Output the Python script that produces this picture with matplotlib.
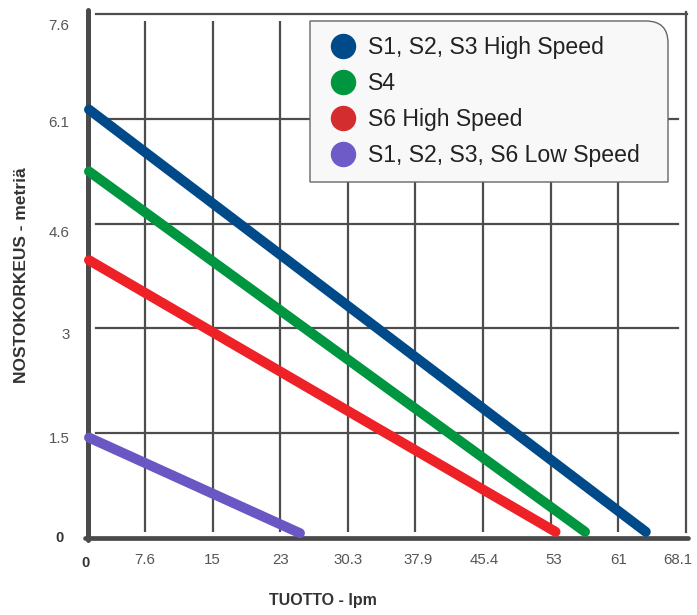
import matplotlib
matplotlib.use('Agg')
import matplotlib.pyplot as plt
from matplotlib.lines import Line2D
from matplotlib.path import Path
from matplotlib.patches import PathPatch
from matplotlib.transforms import ScaledTranslation, Affine2D

plt.rcParams['font.family'] = ['Liberation Sans', 'DejaVu Sans']

# ---- data ----
x_tick_pos = [0, 7.57, 15.13, 22.7, 30.27, 37.83, 45.4, 52.97, 60.53, 68.1]
x_tick_labels = ['0', '7.6', '15', '23', '30.3', '37.9', '45.4', '53', '61', '68.1']
y_tick_pos = [0, 1.524, 3.048, 4.572, 6.096, 7.62]
y_tick_labels = ['0', '1.5', '3', '4.6', '6.1', '7.6']

series_names = ['S1, S2, S3 High Speed', 'S4', 'S6 High Speed', 'S1, S2, S3, S6 Low Speed']
blue_x = [1.3, 63.6]
blue_y = [6.23, 0.09]
green_x = [1.3, 56.8]
green_y = [5.33, 0.09]
red_x = [1.3, 53.5]
red_y = [4.04, 0.09]
purple_x = [1.3, 24.9]
purple_y = [1.46, 0.07]
series_x = [blue_x, green_x, red_x, purple_x]
series_y = [blue_y, green_y, red_y, purple_y]
line_colors = ['#004a8a', '#00963f', '#ee2126', '#6b57c3']
legend_colors = ['#004a8a', '#00963f', '#d32d2f', '#6e5bc8']

W, H = 697, 615
fig = plt.figure(figsize=(W / 100, H / 100), dpi=100)
L, R, B, T = 87.5, 686, 538, 14
ax = fig.add_axes([L / W, 1 - B / H, (R - L) / W, (B - T) / H])
ax.set_xlim(1.13, 68.1)
ax.set_ylim(0, 7.62)
for s in ax.spines.values():
    s.set_visible(False)

grid_c = '#4d4d4d'
# vertical grid lines
for xv in x_tick_pos[1:-1]:
    ax.plot([xv, xv], [0.087, 7.52], color=grid_c, lw=1.6, zorder=1, solid_capstyle='butt')
ax.plot([x_tick_pos[-1]] * 2, [0.087, 7.65], color=grid_c, lw=1.6, zorder=1, clip_on=False)
# horizontal grid lines
for yv in y_tick_pos[1:-1]:
    ax.plot([2.08, 67.25], [yv, yv], color=grid_c, lw=1.6, zorder=1)
ax.plot([2.08, 68.25], [y_tick_pos[-1]] * 2, color=grid_c, lw=1.6, zorder=1, clip_on=False)

# axis lines
ax.plot([1.13, 1.13], [-0.03, 7.68], color='#4a4a4a', lw=3.6, zorder=2,
        solid_capstyle='round', clip_on=False)
ax.plot([0.9, 68.35], [0, 0], color='#4a4a4a', lw=3.4, zorder=2,
        solid_capstyle='round', clip_on=False)

# data lines
for xs, ys, c in zip(series_x, series_y, line_colors):
    ax.plot(xs, ys, color=c, lw=7.2, solid_capstyle='round', zorder=3, clip_on=False)

# ticks
ax.set_xticks(x_tick_pos[1:], x_tick_labels[1:])
ax.set_yticks(y_tick_pos[1:], y_tick_labels[1:])
ax.tick_params(axis='both', length=0, labelsize=10.8, labelcolor='#555555')
ax.tick_params(axis='x', pad=11)
ax.tick_params(axis='y', pad=13)
y_offsets = [4, 5, 8, 3, 11]
for lab, dy in zip(ax.get_yticklabels(), y_offsets):
    lab.set_transform(lab.get_transform() + ScaledTranslation(0, -dy / 100, fig.dpi_scale_trans))
xlabs = ax.get_xticklabels()
x_offsets = [0, 0, 0, 0, 3, 1, 3, 0, -8]
for lab, dx in zip(xlabs, x_offsets):
    lab.set_transform(lab.get_transform() + ScaledTranslation(dx / 100, 0, fig.dpi_scale_trans))

px = Affine2D().scale(1 / W, -1 / H).translate(0, 1) + fig.transFigure
fig.text(60, 538, y_tick_labels[0], transform=px, ha='center', va='center',
         fontsize=10.5, fontweight='bold', color='#333333')
fig.text(85, 563, x_tick_labels[0], transform=px, ha='center', va='center',
         fontsize=10.5, fontweight='bold', color='#333333')

# axis titles
fig.text(22, 275, 'NOSTOKORKEUS - metriä', transform=px, rotation=90, ha='center',
         va='center', fontsize=12.5, fontweight='bold', color='#333333')
fig.text(323, 601, 'TUOTTO - lpm', transform=px, ha='center', va='center',
         fontsize=11.5, fontweight='bold', color='#333333')

# legend box (rounded top-right corner)
x0, x1, y0, y1, r = 310, 668, 21, 182, 22
verts = [(x0, y1), (x0, y0), (x1 - r, y0), (x1, y0), (x1, y0 + r), (x1, y1), (x0, y1)]
codes = [Path.MOVETO, Path.LINETO, Path.LINETO, Path.CURVE3, Path.CURVE3, Path.LINETO, Path.CLOSEPOLY]
box = PathPatch(Path(verts, codes), transform=px, facecolor='#f8f8f8',
                edgecolor='#666666', lw=1.0, zorder=5)
fig.patches.append(box)

handles = [Line2D([], [], marker='o', ls='', markersize=17.3, color=c) for c in legend_colors]
leg = fig.legend(handles, series_names, loc='upper left',
                 bbox_to_anchor=(326 / W, 1 - 36 / H), bbox_transform=fig.transFigure,
                 frameon=False, fontsize=16.6, borderpad=0, borderaxespad=0,
                 handlelength=1.5, handletextpad=0.3, labelspacing=0.56)
leg.set_zorder(6)
for t in leg.get_texts():
    t.set_color('#222222')

fig.savefig('out.png', dpi=100)
